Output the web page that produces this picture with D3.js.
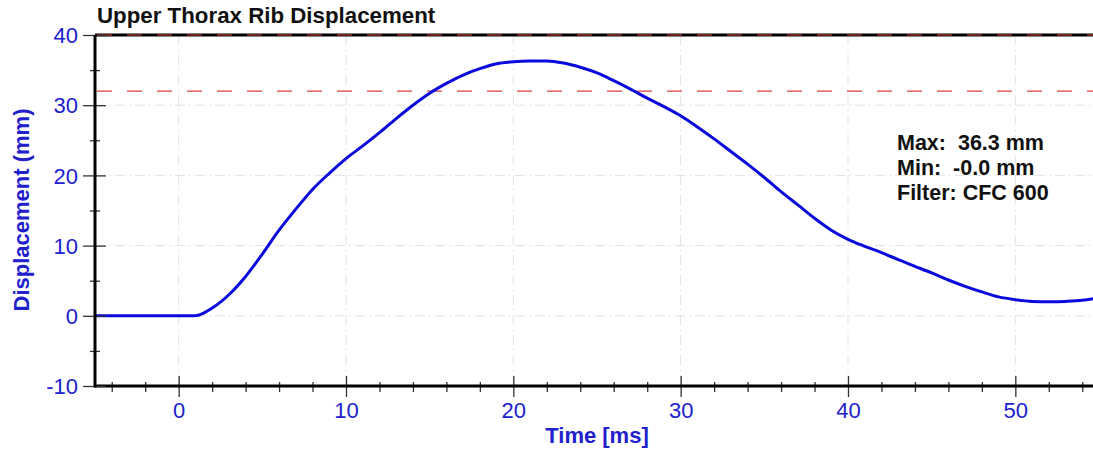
<!DOCTYPE html>
<html>
<head>
<meta charset="utf-8">
<script src="https://cdn.jsdelivr.net/npm/d3@7"></script>
<style>
  body { margin: 0; background: #fff; }
  svg { font-family: "Liberation Sans", Arial, sans-serif; display: block; }
</style>
</head>
<body>
<div id="chart-area"></div>
<script>
// time [ms] and displacement [mm]
var times = [-5, 0, 1, 2, 3, 4, 5, 6, 7, 8, 9, 10, 11, 12, 13, 14, 15, 16, 17, 18, 19, 20,
             21, 22, 23, 24, 25, 26, 27, 28, 29, 30, 31, 32, 33, 34, 35, 36, 37, 38, 39, 40,
             41, 42, 43, 44, 45, 46, 47, 48, 49, 50, 51, 52, 53, 54, 55];
var disp = [0, 0, 0, 1.1, 3.0, 5.6, 8.8, 12.2, 15.2, 18.0, 20.3, 22.4, 24.2, 26.1, 28.1, 30.0,
            31.7, 33.1, 34.3, 35.2, 35.9, 36.2, 36.3, 36.3, 36.0, 35.4, 34.6, 33.5, 32.3, 31.0,
            29.8, 28.5, 26.9, 25.2, 23.4, 21.6, 19.7, 17.7, 15.8, 13.9, 12.2, 10.9, 9.9, 9.0,
            8.0, 7.05, 6.1, 5.1, 4.2, 3.4, 2.7, 2.3, 2.05, 2.0, 2.05, 2.2, 2.6];

var xMajor = [0, 10, 20, 30, 40, 50];
var yMajor = [-10, 0, 10, 20, 30, 40];
var limitLines = [32, 40];
var statsText = ["Max:  36.3 mm", "Min:  -0.0 mm", "Filter: CFC 600"];

var width = 1093, height = 454;
var blue = "#2020cc";

var svg = d3.select("#chart-area")
  .append("svg")
    .attr("width", width)
    .attr("height", height);

var x = d3.scaleLinear().domain([-5, 55]).range([95, 1099]);
var y = d3.scaleLinear().domain([-10, 40]).range([386, 35]);

// grid
var grid = svg.append("g").attr("stroke", "#e2e2e2").attr("stroke-width", 1)
  .attr("stroke-dasharray", "10,4,2,4");
grid.selectAll(".vg").data(xMajor).enter().append("line")
  .attr("x1", d => x(d)).attr("x2", d => x(d))
  .attr("y1", y(40)).attr("y2", y(-10));
grid.selectAll(".hg").data(yMajor.filter(d => d > -10 && d < 40)).enter().append("line")
  .attr("x1", x(-5)).attr("x2", width)
  .attr("y1", d => y(d)).attr("y2", d => y(d));

// top border
svg.append("line")
  .attr("x1", x(-5)).attr("x2", width)
  .attr("y1", y(40)).attr("y2", y(40))
  .attr("stroke", "#000").attr("stroke-width", 3);

// red limit lines
svg.selectAll(".lim").data(limitLines).enter().append("line")
  .attr("x1", x(-5) + 2).attr("x2", width)
  .attr("y1", d => y(d)).attr("y2", d => y(d))
  .attr("stroke", "#d84040").attr("stroke-width", 1.2)
  .attr("stroke-dasharray", "15,15");

// curve
svg.append("defs").append("clipPath").attr("id", "clip")
  .append("rect").attr("x", x(-5)).attr("y", y(40)).attr("width", width).attr("height", y(-10) - y(40));

var line = d3.line()
  .x((d, i) => x(times[i]))
  .y(d => y(d))
  .curve(d3.curveMonotoneX);

svg.append("path")
  .datum(disp)
  .attr("clip-path", "url(#clip)")
  .attr("fill", "none")
  .attr("stroke", "#0a0adc")
  .attr("stroke-width", 3)
  .attr("d", line);

// x axis
var xAxis = svg.append("g").attr("transform", "translate(0," + y(-10) + ")");
xAxis.call(d3.axisBottom(x).tickValues(d3.range(-4, 56, 2)).tickSize(0).tickFormat(""));
xAxis.select(".domain").remove();
xAxis.append("line").attr("x1", x(-5)).attr("x2", width).attr("stroke", "#000").attr("stroke-width", 3);
xAxis.selectAll(".tick").append("line")
  .attr("y1", d => (d % 10 === 0) ? -10 : -4)
  .attr("y2", d => (d % 10 === 0) ? 11 : 6)
  .attr("stroke", "#333").attr("stroke-width", 1.3);
xAxis.selectAll(".tick").filter(d => d % 10 === 0).append("text")
  .attr("y", 32)
  .attr("fill", blue)
  .attr("font-size", 22)
  .attr("text-anchor", "middle")
  .text(d => d);

// y axis
var yAxis = svg.append("g").attr("transform", "translate(" + x(-5) + ",0)");
yAxis.call(d3.axisLeft(y).tickValues(d3.range(-10, 41, 5)).tickSize(0).tickFormat(""));
yAxis.select(".domain").remove();
yAxis.append("line").attr("y1", y(40)).attr("y2", y(-10) + 1.5).attr("stroke", "#000").attr("stroke-width", 3);
yAxis.selectAll(".tick").append("line")
  .attr("x1", d => (d % 10 === 0) ? -12 : -5)
  .attr("x2", d => (d % 10 === 0) ? 11 : 5)
  .attr("stroke", "#333").attr("stroke-width", 1.3);
yAxis.selectAll(".tick").filter(d => d % 10 === 0).append("text")
  .attr("x", -17)
  .attr("dy", "0.35em")
  .attr("fill", blue)
  .attr("font-size", 22)
  .attr("text-anchor", "end")
  .text(d => d);

// title and axis labels
svg.append("text")
  .attr("x", 97).attr("y", 23)
  .attr("font-size", 22.3).attr("font-weight", "bold").attr("fill", "#111")
  .text("Upper Thorax Rib Displacement");

svg.append("text")
  .attr("transform", "translate(29,210) rotate(-90)")
  .attr("text-anchor", "middle")
  .attr("font-size", 22).attr("font-weight", "bold").attr("fill", blue)
  .text("Displacement (mm)");

svg.append("text")
  .attr("x", 597).attr("y", 443)
  .attr("text-anchor", "middle")
  .attr("font-size", 22).attr("font-weight", "bold").attr("fill", blue)
  .text("Time [ms]");

// stats box
svg.selectAll(".stat").data(statsText).enter().append("text")
  .attr("x", 897)
  .attr("y", (d, i) => 150 + i * 25)
  .attr("font-size", 21.5).attr("font-weight", "bold").attr("fill", "#111")
  .attr("xml:space", "preserve")
  .style("white-space", "pre")
  .text(d => d);
</script>
</body>
</html>
